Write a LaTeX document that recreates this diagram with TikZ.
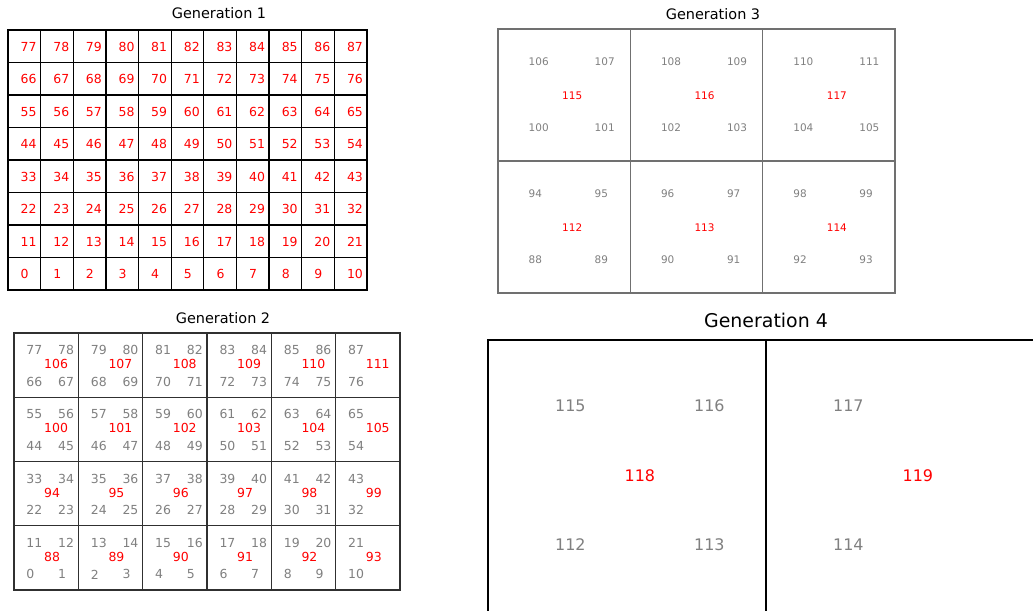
\documentclass[tikz,border=0pt]{standalone}
\usepackage{fontspec}
\setmainfont{DejaVu Sans}
\definecolor{lblgray}{HTML}{808080}
\definecolor{framegray}{HTML}{707070}
\definecolor{darkline}{HTML}{303030}
\begin{document}
\begin{tikzpicture}[x=1bp,y=-1bp,
  lbl/.style={inner sep=0pt, anchor=west},
  redlbl/.style={lbl, text=red},
  graylbl/.style={lbl, text=lblgray},
  title/.style={inner sep=0pt, font=\fontsize{14.5}{16}\selectfont},
  bigtitle/.style={inner sep=0pt, font=\fontsize{19}{21}\selectfont},
  gonegrid/.style={draw=black, line width=1.2bp},
  gtwogrid/.style={draw=darkline, line width=1.4bp},
  gthreegrid/.style={draw=framegray, line width=1.3bp},
  gfourgrid/.style={draw=black, line width=1.5bp},
  fa/.style={font=\fontsize{12.5}{14}\selectfont},
  fb/.style={font=\fontsize{12.5}{14}\selectfont},
  fc/.style={font=\fontsize{10.5}{12}\selectfont},
  fd/.style={font=\fontsize{16}{18}\selectfont}]
\useasboundingbox (0,0) rectangle (1033,611);
\fill[white] (0,0) rectangle (1033,611);

% ---------------- Generation 1 ----------------
\node[title] (t1) at (219,13.5) {Generation 1};
\foreach \i in {0,...,7}{
  \foreach \c in {0,...,10}{
    \pgfmathtruncatemacro{\n}{(7-\i)*11+\c}
    \pgfmathsetmacro{\xl}{8+\c*32.636}
    \pgfmathsetmacro{\yt}{30+\i*32.5}
    \draw[gonegrid] (\xl,\yt) rectangle ++(32.636,32.5);
    \node[redlbl, fa] (ga-\n) at (\xl+12.5,\yt+16.7) {\n};
  }
}

% ---------------- Generation 2 ----------------
\node[title] (t2) at (223,318.3) {Generation 2};
\foreach \i in {0,...,3}{
  \foreach \c in {0,...,5}{
    \pgfmathtruncatemacro{\r}{3-\i}
    \pgfmathtruncatemacro{\red}{88+\r*6+\c}
    \pgfmathtruncatemacro{\bl}{\r*22+2*\c}
    \pgfmathtruncatemacro{\br}{\bl+1}
    \pgfmathtruncatemacro{\tl}{\bl+11}
    \pgfmathtruncatemacro{\tr}{\bl+12}
    \pgfmathsetmacro{\xl}{14+\c*64.333}
    \pgfmathsetmacro{\yt}{333+\i*64.25}
    \draw[gtwogrid] (\xl,\yt) rectangle ++(64.333,64.25);
    \node[graylbl, fb] (gb-\red-tl) at (\xl+12.3,\yt+17) {\tl};
    \node[graylbl, fb] (gb-\red-bl) at (\xl+12.3,\yt+48.7) {\bl};
    \node[redlbl, fb] (gb-\red) at (\xl+30,\yt+31.2) {\red};
    \ifnum\c<5
      \node[graylbl, fb] (gb-\red-tr) at (\xl+44,\yt+17) {\tr};
      \node[graylbl, fb] (gb-\red-br) at (\xl+44,\yt+48.7) {\br};
    \fi
  }
}

% ---------------- Generation 3 ----------------
\node[title] (t3) at (713,13.8) {Generation 3};
\foreach \i in {0,1}{
  \foreach \c in {0,1,2}{
    \pgfmathtruncatemacro{\r}{1-\i}
    \pgfmathtruncatemacro{\red}{112+\r*3+\c}
    \pgfmathtruncatemacro{\bl}{88+\r*12+2*\c}
    \pgfmathtruncatemacro{\br}{\bl+1}
    \pgfmathtruncatemacro{\tl}{\bl+6}
    \pgfmathtruncatemacro{\tr}{\bl+7}
    \pgfmathsetmacro{\xl}{498+\c*132.333}
    \pgfmathsetmacro{\yt}{29+\i*132}
    \draw[gthreegrid] (\xl,\yt) rectangle ++(132.333,132);
    \node[graylbl, fc] (gc-\red-tl) at (\xl+30.5,\yt+32.5) {\tl};
    \node[graylbl, fc] (gc-\red-tr) at (\xl+96.5,\yt+32.5) {\tr};
    \node[redlbl, fc] (gc-\red) at (\xl+64,\yt+66.5) {\red};
    \node[graylbl, fc] (gc-\red-bl) at (\xl+30.5,\yt+99) {\bl};
    \node[graylbl, fc] (gc-\red-br) at (\xl+96.5,\yt+99) {\br};
  }
}

% ---------------- Generation 4 ----------------
\node[bigtitle] (t4) at (766,320) {Generation 4};
\begin{scope}
  \clip (0,0) rectangle (1033,611);
  \draw[gfourgrid] (488,340) rectangle (766,612);
  \draw[gfourgrid] (766,340) rectangle (1044,612);
\end{scope}
\node[graylbl, fd] (gd-115) at (555,406) {115};
\node[graylbl, fd] (gd-116) at (694,406) {116};
\node[redlbl, fd]  (gd-118) at (624.5,475.5) {118};
\node[graylbl, fd] (gd-112) at (555,544.5) {112};
\node[graylbl, fd] (gd-113) at (694,544.5) {113};
\node[graylbl, fd] (gd-117) at (833,406) {117};
\node[redlbl, fd]  (gd-119) at (902.5,475.5) {119};
\node[graylbl, fd] (gd-114) at (833,544.5) {114};
\end{tikzpicture}
\end{document}
